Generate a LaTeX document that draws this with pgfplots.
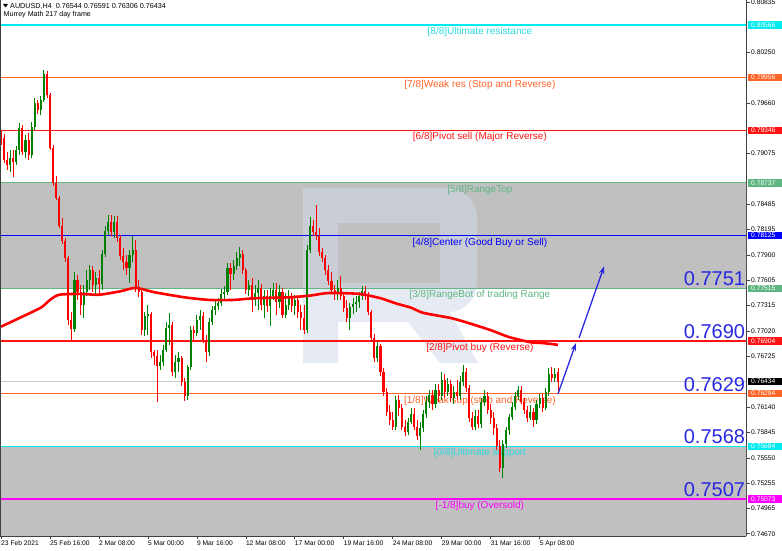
\documentclass[border=0pt]{standalone}
\usepackage{pgfplots}
\pgfplotsset{compat=1.18}
\usepackage{pgfplotstable}
\usepackage{fontspec}
\setmainfont{Liberation Sans}
\usetikzlibrary{arrows.meta}

\definecolor{lvcyan}{RGB}{0,235,240}
\definecolor{lvcyantxt}{RGB}{40,220,225}
\definecolor{lvorange}{RGB}{255,100,40}
\definecolor{lvred}{RGB}{255,20,20}
\definecolor{lvgreen}{RGB}{96,182,130}
\definecolor{lvblue}{RGB}{0,0,255}
\definecolor{lvmag}{RGB}{255,0,255}
\definecolor{bandgray}{RGB}{192,192,192}
\definecolor{cgreen}{RGB}{0,128,0}
\definecolor{cred}{RGB}{255,0,0}
\definecolor{bignum}{RGB}{40,40,225}
\definecolor{wm}{RGB}{209,217,231}
\definecolor{pricegray}{RGB}{200,200,200}

\newcommand{\fs}{\fontsize{6.7}{8}\selectfont}

\pgfplotstableread{
i o h l c
0 0.7931 0.7935 0.7918 0.7926
1 0.7926 0.7930 0.7897 0.7900
2 0.7900 0.7909 0.7889 0.7894
3 0.7894 0.7912 0.7886 0.7902
4 0.7902 0.7912 0.7880 0.7898
5 0.7898 0.7916 0.7894 0.7912
6 0.7912 0.7943 0.7906 0.7937
7 0.7937 0.7941 0.7906 0.7909
8 0.7909 0.7929 0.7902 0.7923
9 0.7923 0.7931 0.7900 0.7906
10 0.7906 0.7944 0.7902 0.7938
11 0.7938 0.7972 0.7935 0.7966
12 0.7966 0.7970 0.7953 0.7958
13 0.7958 0.7974 0.7952 0.7970
14 0.7970 0.8004 0.7967 0.8000
15 0.8000 0.8003 0.7972 0.7975
16 0.7975 0.7978 0.7912 0.7914
17 0.7914 0.7918 0.7870 0.7874
18 0.7874 0.7882 0.7854 0.7856
19 0.7856 0.7858 0.7821 0.7824
20 0.7824 0.7833 0.7803 0.7806
21 0.7806 0.7810 0.7782 0.7787
22 0.7787 0.7789 0.7709 0.7715
23 0.7715 0.7724 0.7692 0.7704
24 0.7704 0.7770 0.7701 0.7761
25 0.7761 0.7767 0.7738 0.7747
26 0.7747 0.7755 0.7720 0.7732
27 0.7732 0.7755 0.7717 0.7747
28 0.7747 0.7773 0.7743 0.7761
29 0.7761 0.7778 0.7749 0.7773
30 0.7773 0.7777 0.7747 0.7755
31 0.7755 0.7770 0.7744 0.7763
32 0.7763 0.7773 0.7743 0.7756
33 0.7756 0.7796 0.7749 0.7791
34 0.7791 0.7824 0.7788 0.7818
35 0.7818 0.7836 0.7813 0.7828
36 0.7828 0.7836 0.7812 0.7817
37 0.7817 0.7835 0.7810 0.7828
38 0.7828 0.7835 0.7805 0.7810
39 0.7810 0.7813 0.7784 0.7789
40 0.7789 0.7798 0.7773 0.7782
41 0.7782 0.7790 0.7767 0.7775
42 0.7775 0.7796 0.7758 0.7790
43 0.7790 0.7812 0.7782 0.7796
44 0.7796 0.7807 0.7747 0.7752
45 0.7752 0.7761 0.7741 0.7747
46 0.7747 0.7752 0.7697 0.7703
47 0.7703 0.7724 0.7696 0.7719
48 0.7719 0.7732 0.7697 0.7722
49 0.7722 0.7724 0.7671 0.7678
50 0.7678 0.7680 0.7663 0.7673
51 0.7673 0.7680 0.7620 0.7661
52 0.7661 0.7674 0.7657 0.7666
53 0.7666 0.7686 0.7661 0.7680
54 0.7680 0.7712 0.7678 0.7705
55 0.7705 0.7723 0.7686 0.7709
56 0.7709 0.7712 0.7650 0.7654
57 0.7654 0.7674 0.7647 0.7666
58 0.7666 0.7678 0.7654 0.7671
59 0.7671 0.7673 0.7638 0.7643
60 0.7643 0.7647 0.7621 0.7627
61 0.7627 0.7663 0.7622 0.7660
62 0.7660 0.7708 0.7657 0.7703
63 0.7703 0.7708 0.7692 0.7700
64 0.7700 0.7720 0.7696 0.7715
65 0.7715 0.7726 0.7703 0.7719
66 0.7719 0.7724 0.7688 0.7692
67 0.7692 0.7697 0.7666 0.7678
68 0.7678 0.7717 0.7673 0.7712
69 0.7712 0.7731 0.7709 0.7726
70 0.7726 0.7738 0.7720 0.7731
71 0.7731 0.7740 0.7726 0.7734
72 0.7734 0.7751 0.7731 0.7745
73 0.7745 0.7754 0.7738 0.7747
74 0.7747 0.7781 0.7744 0.7775
75 0.7775 0.7781 0.7749 0.7768
76 0.7768 0.7784 0.7761 0.7777
77 0.7777 0.7794 0.7773 0.7787
78 0.7787 0.7799 0.7777 0.7791
79 0.7791 0.7796 0.7768 0.7773
80 0.7773 0.7775 0.7745 0.7749
81 0.7749 0.7761 0.7743 0.7755
82 0.7755 0.7763 0.7724 0.7738
83 0.7738 0.7755 0.7731 0.7746
84 0.7746 0.7761 0.7726 0.7752
85 0.7752 0.7756 0.7726 0.7732
86 0.7732 0.7749 0.7717 0.7743
87 0.7743 0.7749 0.7724 0.7731
88 0.7731 0.7752 0.7708 0.7743
89 0.7743 0.7758 0.7738 0.7749
90 0.7749 0.7758 0.7720 0.7736
91 0.7736 0.7755 0.7729 0.7747
92 0.7747 0.7752 0.7717 0.7720
93 0.7720 0.7746 0.7717 0.7732
94 0.7732 0.7749 0.7726 0.7740
95 0.7740 0.7746 0.7724 0.7731
96 0.7731 0.7744 0.7720 0.7738
97 0.7738 0.7744 0.7717 0.7724
98 0.7724 0.7732 0.7703 0.7717
99 0.7717 0.7732 0.7698 0.7703
100 0.7703 0.7802 0.7700 0.7796
101 0.7796 0.7834 0.7792 0.7824
102 0.7824 0.7831 0.7812 0.7817
103 0.7817 0.7848 0.7807 0.7812
104 0.7812 0.7821 0.7789 0.7794
105 0.7794 0.7798 0.7782 0.7787
106 0.7787 0.7790 0.7767 0.7773
107 0.7773 0.7778 0.7755 0.7760
108 0.7760 0.7770 0.7745 0.7749
109 0.7749 0.7755 0.7738 0.7745
110 0.7745 0.7761 0.7738 0.7752
111 0.7752 0.7766 0.7738 0.7743
112 0.7743 0.7747 0.7724 0.7729
113 0.7729 0.7738 0.7712 0.7717
114 0.7717 0.7734 0.7703 0.7730
115 0.7730 0.7740 0.7722 0.7733
116 0.7733 0.7743 0.7724 0.7736
117 0.7736 0.7747 0.7729 0.7743
118 0.7743 0.7754 0.7738 0.7748
119 0.7748 0.7754 0.7738 0.7743
120 0.7743 0.7747 0.7720 0.7724
121 0.7724 0.7726 0.7689 0.7694
122 0.7694 0.7698 0.7666 0.7671
123 0.7671 0.7689 0.7666 0.7685
124 0.7685 0.7687 0.7650 0.7654
125 0.7654 0.7659 0.7627 0.7631
126 0.7631 0.7636 0.7603 0.7608
127 0.7608 0.7616 0.7593 0.7599
128 0.7599 0.7608 0.7587 0.7591
129 0.7591 0.7627 0.7587 0.7622
130 0.7622 0.7628 0.7603 0.7613
131 0.7613 0.7617 0.7587 0.7591
132 0.7591 0.7599 0.7580 0.7585
133 0.7585 0.7601 0.7581 0.7596
134 0.7596 0.7613 0.7594 0.7606
135 0.7606 0.7613 0.7587 0.7591
136 0.7591 0.7599 0.7576 0.7580
137 0.7580 0.7596 0.7564 0.7590
138 0.7590 0.7610 0.7585 0.7606
139 0.7606 0.7627 0.7601 0.7620
140 0.7620 0.7634 0.7613 0.7628
141 0.7628 0.7634 0.7610 0.7617
142 0.7617 0.7640 0.7613 0.7634
143 0.7634 0.7640 0.7620 0.7627
144 0.7627 0.7654 0.7622 0.7645
145 0.7645 0.7652 0.7624 0.7631
146 0.7631 0.7647 0.7627 0.7640
147 0.7640 0.7645 0.7620 0.7624
148 0.7624 0.7638 0.7617 0.7631
149 0.7631 0.7645 0.7622 0.7627
150 0.7627 0.7650 0.7622 0.7643
151 0.7643 0.7663 0.7638 0.7654
152 0.7654 0.7659 0.7631 0.7636
153 0.7636 0.7639 0.7596 0.7601
154 0.7601 0.7608 0.7587 0.7591
155 0.7591 0.7610 0.7587 0.7603
156 0.7603 0.7610 0.7590 0.7594
157 0.7594 0.7624 0.7590 0.7620
158 0.7620 0.7634 0.7615 0.7627
159 0.7627 0.7631 0.7606 0.7610
160 0.7610 0.7617 0.7594 0.7601
161 0.7601 0.7608 0.7582 0.7590
162 0.7590 0.7594 0.7564 0.7569
163 0.7569 0.7576 0.7538 0.7543
164 0.7543 0.7576 0.7532 0.7571
165 0.7571 0.7591 0.7566 0.7587
166 0.7587 0.7606 0.7582 0.7602
167 0.7602 0.7620 0.7599 0.7614
168 0.7614 0.7631 0.7610 0.7627
169 0.7627 0.7638 0.7622 0.7634
170 0.7634 0.7638 0.7617 0.7620
171 0.7620 0.7624 0.7606 0.7610
172 0.7610 0.7615 0.7596 0.7601
173 0.7601 0.7616 0.7599 0.7608
174 0.7608 0.7613 0.7591 0.7599
175 0.7599 0.7622 0.7594 0.7617
176 0.7617 0.7629 0.7613 0.7624
177 0.7624 0.7629 0.7608 0.7613
178 0.7613 0.7636 0.7610 0.7631
179 0.7631 0.7659 0.7627 0.7652
180 0.7652 0.7660 0.7643 0.7647
181 0.7647 0.7659 0.7643 0.7652
182 0.76544 0.76591 0.76306 0.76434
}\candles

\pgfplotstableread{
i ma
0 0.7707
6 0.7717
13 0.7729
16 0.7738
19 0.7744
26 0.7745
32 0.7744
39 0.7748
44 0.7752
50 0.7747
60 0.7741
68 0.7738
76 0.7738
83 0.7740
94 0.7741
101 0.7743
107 0.7746
117 0.7745
124 0.7740
129 0.7734
134 0.7729
138 0.7723
147 0.7717
153 0.7711
160 0.7703
166 0.7695
173 0.7689
177 0.7688
182 0.7686
}\matab

\pgfplotsset{
  candle/.style n args={2}{draw=none, no markers, forget plot,
    error bars/y dir=plus, error bars/y explicit, error bars/error mark=none,
    error bars/error bar style={solid, line width=#2, draw=#1}},
}

\begin{document}
\begin{tikzpicture}
\useasboundingbox (0,-15pt) rectangle (782pt,536pt);
\begin{axis}[
  at={(0,0)}, anchor=south west,
  scale only axis, width=746pt, height=536pt,
  xmin=-0.33, xmax=243.46,
  ymin=0.74644, ymax=0.80856,
  axis x line*=bottom, axis y line*=right,
  axis line style={black!75, line width=0.8pt},
  tick align=outside, major tick length=3.5pt,
  tick style={black!75, line width=0.6pt},
  xtick={0,16,32,48,64,80,96,112,128,144,160,176},
  xticklabels={23 Feb 2021,25 Feb 16:00,2 Mar 08:00,5 Mar 00:00,9 Mar 16:00,12 Mar 08:00,17 Mar 00:00,19 Mar 16:00,24 Mar 08:00,29 Mar 00:00,31 Mar 16:00,5 Apr 08:00},
  xticklabel style={anchor=north west, font=\fs, inner sep=1pt, xshift=-1pt},
  ytick={0.80835,0.80250,0.79660,0.79075,0.78485,0.78195,0.77900,0.77605,0.77315,0.77020,0.76725,0.76140,0.75845,0.75550,0.75255,0.74965,0.74670},
  yticklabels={0.80835,0.80250,0.79660,0.79075,0.78485,0.78195,0.77900,0.77605,0.77315,0.77020,0.76725,0.76140,0.75845,0.75550,0.75255,0.74965,0.74670},
  yticklabel style={font=\fs, inner sep=1.5pt},
]
% gray bands
\fill[bandgray] (axis cs:-5,0.78737) rectangle (axis cs:250,0.77515);
\fill[bandgray] (axis cs:-5,0.75684) rectangle (axis cs:250,0.74);
% watermark "R"
\fill[wm, opacity=0.54, even odd rule]
  (rel axis cs:0.4062,0.6493) -- (rel axis cs:0.5992,0.6493)
  .. controls (rel axis cs:0.6213,0.6493) and (rel axis cs:0.6394,0.6241) .. (rel axis cs:0.6394,0.5933)
  -- (rel axis cs:0.6394,0.4739)
  .. controls (rel axis cs:0.6394,0.4440) and (rel axis cs:0.6233,0.4179) .. (rel axis cs:0.6032,0.4179)
  -- (rel axis cs:0.6408,0.3228) -- (rel axis cs:0.5898,0.3228) -- (rel axis cs:0.5469,0.3993)
  -- (rel axis cs:0.4531,0.3993) -- (rel axis cs:0.4531,0.3228) -- (rel axis cs:0.4062,0.3228) -- cycle
  (rel axis cs:0.4531,0.5840) rectangle (rel axis cs:0.5898,0.4720);
% current price line
\addplot[pricegray, line width=0.8pt, forget plot] coordinates {(-5,0.76434) (250,0.76434)};
% Murrey levels
\addplot[lvcyan, line width=1.1pt] coordinates {(-5,0.80566) (250,0.80566)};
\addplot[lvorange, line width=1.1pt] coordinates {(-5,0.79956) (250,0.79956)};
\addplot[lvred, line width=1.1pt] coordinates {(-5,0.79346) (250,0.79346)};
\addplot[lvgreen, line width=1.1pt] coordinates {(-5,0.78737) (250,0.78737)};
\addplot[lvblue, line width=1.1pt] coordinates {(-5,0.78125) (250,0.78125)};
\addplot[lvgreen, line width=1.1pt] coordinates {(-5,0.77515) (250,0.77515)};
\addplot[lvred, line width=1.1pt] coordinates {(-5,0.76904) (250,0.76904)};
\addplot[lvorange, line width=1.1pt] coordinates {(-5,0.76294) (250,0.76294)};
\addplot[lvcyan, line width=1.1pt] coordinates {(-5,0.75684) (250,0.75684)};
\addplot[lvmag, line width=1.1pt] coordinates {(-5,0.75073) (250,0.75073)};
% level texts
\begin{scope}[every node/.style={anchor=north, inner sep=1pt, yshift=-1pt, font=\fontsize{10}{11}\selectfont}]
\node[text=lvcyantxt] at (axis cs:156.5,0.80566) {[8/8]Ultimate resistance};
\node[text=lvorange] at (axis cs:156.5,0.79956) {[7/8]Weak res (Stop and Reverse)};
\node[text=lvred] at (axis cs:156.5,0.79346) {[6/8]Pivot sell (Major Reverse)};
\node[text=lvgreen] at (axis cs:156.5,0.78737) {[5/8]RangeTop};
\node[text=lvblue] at (axis cs:156.5,0.78125) {[4/8]Center (Good Buy or Sell)};
\node[text=lvgreen] at (axis cs:156.5,0.77515) {[3/8]RangeBot of trading Range};
\node[text=lvred] at (axis cs:156.5,0.76904) {[2/8]Pivot buy (Reverse)};
\node[text=lvorange] at (axis cs:156.5,0.76294) {[1/8]Weak sup (stop and Reverse)};
\node[text=lvcyantxt] at (axis cs:156.5,0.75684) {[0/8]Ultimate support};
\node[text=lvmag] at (axis cs:156.5,0.75073) {[-1/8]buy (Oversold)};
\end{scope}
% candles: wicks
\addplot[candle={cgreen}{0.8pt}, restrict expr to domain={\thisrow{c}-\thisrow{o}}{0:1}]
  table[x=i, y=l, y error plus expr=\thisrow{h}-\thisrow{l}] {\candles};
\addplot[candle={cred}{0.8pt}, restrict expr to domain={\thisrow{c}-\thisrow{o}}{-1:0}]
  table[x=i, y=l, y error plus expr=\thisrow{h}-\thisrow{l}] {\candles};
% candles: bodies
\addplot[candle={cgreen}{2.1pt}, restrict expr to domain={\thisrow{c}-\thisrow{o}}{0:1}]
  table[x=i, y=o, y error plus expr=\thisrow{c}-\thisrow{o}] {\candles};
\addplot[candle={cred}{2.1pt}, restrict expr to domain={\thisrow{c}-\thisrow{o}}{-1:0}]
  table[x=i, y=c, y error plus expr=\thisrow{o}-\thisrow{c}] {\candles};
% moving average
\addplot[cred, line width=2.6pt, smooth, tension=0.4] table[x=i, y=ma] {\matab};
% arrows
\addplot[bignum, line width=1.3pt, -{Stealth[length=8pt, width=5.5pt]}] coordinates {(182,0.7629) (187.9,0.7688)};
\addplot[bignum, line width=1.3pt, -{Stealth[length=8pt, width=5.5pt]}] coordinates {(188.9,0.7694) (197.1,0.7777)};
% big numbers
\begin{scope}[every node/.style={anchor=base east, inner sep=0pt, yshift=2.5pt, text=bignum, font=\fontsize{20}{20}\selectfont}]
\node at (axis cs:243.2,0.77515) {0.7751};
\node at (axis cs:243.2,0.76904) {0.7690};
\node at (axis cs:243.2,0.76294) {0.7629};
\node at (axis cs:243.2,0.75684) {0.7568};
\node at (axis cs:243.2,0.75073) {0.7507};
\end{scope}
% anchor coordinates for right boxes
\coordinate (b1) at (axis cs:243.46,0.80566);
\coordinate (b2) at (axis cs:243.46,0.79956);
\coordinate (b3) at (axis cs:243.46,0.79346);
\coordinate (b4) at (axis cs:243.46,0.78737);
\coordinate (b5) at (axis cs:243.46,0.78125);
\coordinate (b6) at (axis cs:243.46,0.77515);
\coordinate (b7) at (axis cs:243.46,0.76904);
\coordinate (b8) at (axis cs:243.46,0.76434);
\coordinate (b9) at (axis cs:243.46,0.76294);
\coordinate (b10) at (axis cs:243.46,0.75684);
\coordinate (b11) at (axis cs:243.46,0.75073);
\end{axis}
% left border
\draw[black!75, line width=0.8pt] (0.4pt,0) -- (0.4pt,536pt);
% header
\fill[black] (3pt,532pt) -- (8pt,532pt) -- (5.5pt,528.5pt) -- cycle;
\node[anchor=west, inner sep=0pt, font=\fontsize{7.2}{8}\selectfont] at (10pt,530pt) {AUDUSD,H4\ \ 0.76544 0.76591 0.76306 0.76434};
\node[anchor=west, inner sep=0pt, font=\fontsize{7.1}{8}\selectfont] at (3.5pt,521pt) {Murrey Math 217 day frame};
% right-side value boxes
\begin{scope}[every node/.style={anchor=west, xshift=2pt, inner xsep=3pt, inner ysep=1.3pt, text width=28pt, align=left, text=white, font=\fs}]
\node[fill=lvcyan] at (b1) {0.80566};
\node[fill=lvorange] at (b2) {0.79956};
\node[fill=lvred] at (b3) {0.79346};
\node[fill=lvgreen] at (b4) {0.78737};
\node[fill=lvblue] at (b5) {0.78125};
\node[fill=lvgreen] at (b6) {0.77515};
\node[fill=lvred] at (b7) {0.76904};
\node[fill=black] at (b8) {0.76434};
\node[fill=lvorange] at (b9) {0.76294};
\node[fill=lvcyan] at (b10) {0.75684};
\node[fill=lvmag] at (b11) {0.75073};
\end{scope}
\end{tikzpicture}
\end{document}
